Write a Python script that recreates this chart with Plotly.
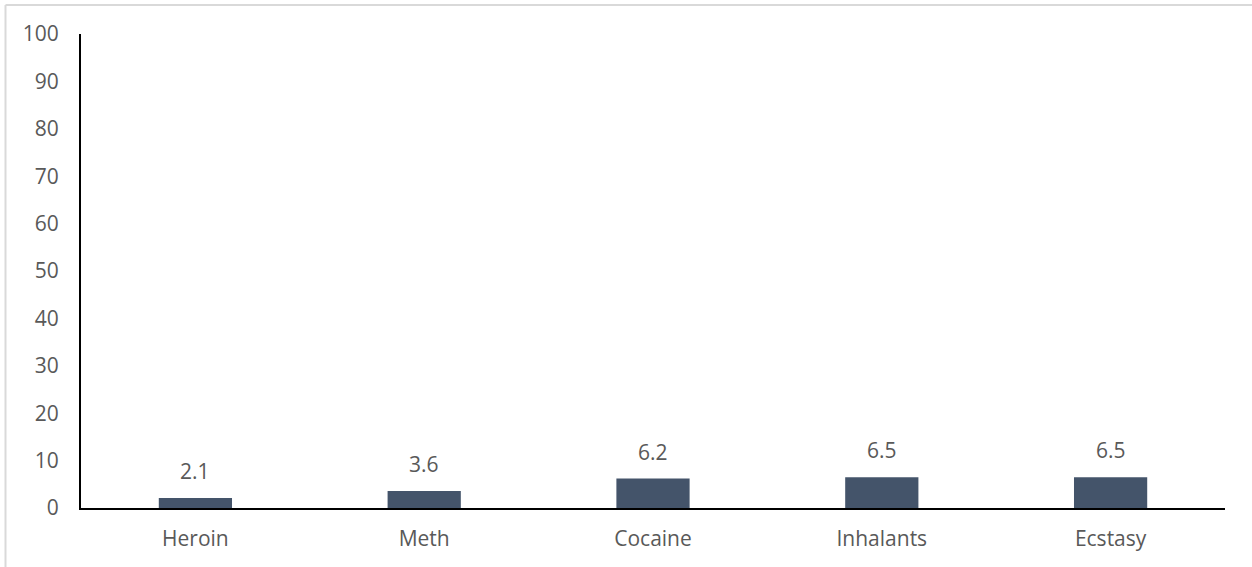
import plotly.graph_objects as go

categories = ["Heroin", "Meth", "Cocaine", "Inhalants", "Ecstasy"]
values = [2.1, 3.6, 6.2, 6.5, 6.5]
y_ticks = [0, 10, 20, 30, 40, 50, 60, 70, 80, 90, 100]

BAR_COLOR = "#44546A"
TEXT_COLOR = "#595959"
FONT = "Open Sans"
FONT_SIZE = 21

W, H = 1252, 567
M_L, M_R, M_T, M_B = 81, 27, 34, 59

fig = go.Figure()
fig.add_trace(go.Bar(
    x=categories,
    y=values,
    marker=dict(color=BAR_COLOR, line=dict(width=0)),
    hoverinfo="x+y",
))

# value labels above each bar
for c, v in zip(categories, values):
    fig.add_annotation(
        x=c, y=v, text=f"{v:.1f}", showarrow=False,
        yanchor="bottom", yshift=11,
        font=dict(family=FONT, size=FONT_SIZE, color=TEXT_COLOR),
    )

# light frame around the chart (top and left edges visible)
pw = W - M_L - M_R
ph = H - M_T - M_B
x_left = (5.5 - M_L) / pw
y_top = 1 + (M_T - 5) / ph
fig.add_shape(type="line", xref="paper", yref="paper",
              x0=x_left, x1=1 + (M_R + 10) / pw, y0=y_top, y1=y_top,
              line=dict(color="#D9D9D9", width=2))
fig.add_shape(type="line", xref="paper", yref="paper",
              x0=x_left, x1=x_left, y0=y_top, y1=-(M_B + 10) / ph,
              line=dict(color="#D9D9D9", width=2))

fig.update_layout(
    width=W, height=H,
    margin=dict(l=M_L, r=M_R, t=M_T, b=M_B),
    paper_bgcolor="white",
    plot_bgcolor="white",
    bargap=0.68,
    showlegend=False,
    font=dict(family=FONT, size=FONT_SIZE, color=TEXT_COLOR),
    xaxis=dict(
        showline=True, linecolor="black", linewidth=2,
        showgrid=False, ticks="", ticklabelstandoff=11,
        tickfont=dict(family=FONT, size=FONT_SIZE, color=TEXT_COLOR),
    ),
    yaxis=dict(
        range=[0, 100], tickvals=y_ticks,
        showline=True, linecolor="black", linewidth=2,
        showgrid=False, zeroline=False, ticks="",
        ticklabelstandoff=16,
        tickfont=dict(family=FONT, size=FONT_SIZE, color=TEXT_COLOR),
    ),
)

fig.write_html("out.html")
